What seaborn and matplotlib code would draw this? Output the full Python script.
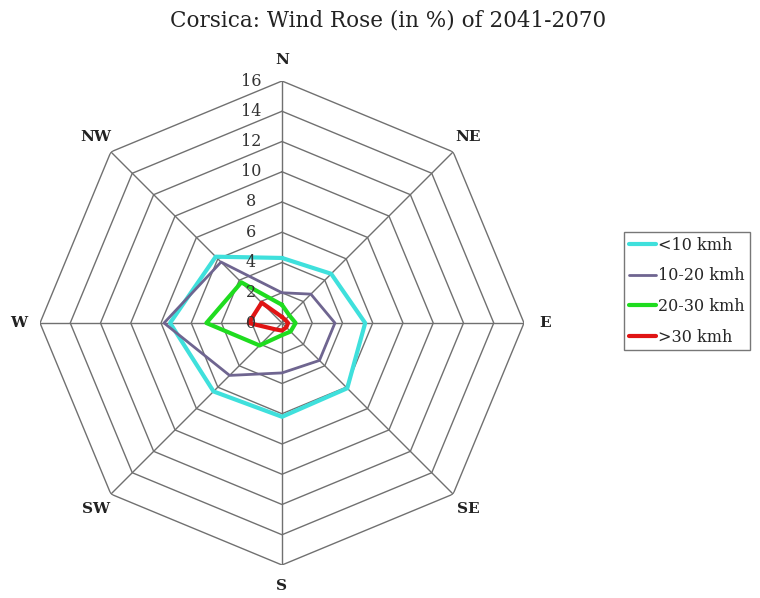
import numpy as np
import pandas as pd
import matplotlib
matplotlib.use("Agg")
import matplotlib.pyplot as plt
import matplotlib.transforms as mtransforms
from matplotlib.lines import Line2D
import seaborn as sns

# Wind directions (clockwise from north) and frequencies in percent
directions = ["N", "NE", "E", "SE", "S", "SW", "W", "NW"]
speed_classes = ["<10 kmh", "10-20 kmh", "20-30 kmh", ">30 kmh"]
below_10 = [4.3, 4.6, 5.5, 6.1, 6.2, 6.4, 7.4, 6.2]
from_10_to_20 = [2.0, 2.7, 3.5, 3.5, 3.3, 4.9, 7.8, 5.7]
from_20_to_30 = [1.2, 0.7, 0.9, 0.8, 0.8, 2.1, 5.0, 3.8]
above_30 = [0.4, 0.3, 0.4, 0.4, 0.5, 0.6, 2.2, 1.9]
radial_ticks = [0, 2, 4, 6, 8, 10, 12, 14, 16]

colors = ["#3fe0dc", "#6f6590", "#1fdc1f", "#e01414"]
widths = [3.0, 2.0, 3.0, 3.0]

sns.set_theme(style="white")
plt.rcParams["font.family"] = ["DejaVu Serif"]

angles = np.linspace(0, 2 * np.pi, len(directions), endpoint=False)
closed = np.append(angles, 2 * np.pi)

rows = []
for name, vals in zip(speed_classes, [below_10, from_10_to_20, from_20_to_30, above_30]):
    vv = list(vals) + [vals[0]]
    for th, v in zip(closed, vv):
        rows.append({"theta": th, "value": v, "speed": name})
df = pd.DataFrame(rows)

fig = plt.figure(figsize=(7.6, 5.98), dpi=100)
ax = fig.add_axes([40 / 760, 33 / 598, 484 / 760, 484 / 598], projection="polar")
ax.set_theta_zero_location("N")
ax.set_theta_direction(-1)
ax.set_ylim(0, 16)
ax.grid(False)
ax.spines["polar"].set_visible(False)
ax.set_xticks([])
ax.set_yticks([])
ax.set_facecolor("white")

grid_color = "#707070"
# octagonal rings
for r in radial_ticks[1:]:
    ax.plot(closed, [r] * len(closed), color=grid_color, lw=1.0, zorder=1)
# spokes
for a in angles:
    ax.plot([a, a], [0, 16], color=grid_color, lw=1.0, zorder=1)

sns.lineplot(data=df, x="theta", y="value", hue="speed", hue_order=speed_classes,
             palette=colors, sort=False, estimator=None, legend=False, ax=ax, zorder=3)
for line, lw in zip(ax.lines[-4:], widths):
    line.set_linewidth(lw)
ax.set_xlabel("")
ax.set_ylabel("")

# radial tick labels along the north spoke
off = mtransforms.offset_copy(ax.transData, fig=fig, x=-31, y=0, units="dots")
for r in radial_ticks:
    ax.text(0, r, str(r), transform=off, ha="center", va="center",
            fontsize=11.5, color="#333333", zorder=4)

# compass labels
for a, d in zip(angles, directions):
    ax.text(a, 17.4, d, ha="center", va="center", fontsize=11,
            fontweight="bold", color="#222222", clip_on=False)

fig.text(0.511, 0.966, "Corsica: Wind Rose (in %) of 2041-2070",
         ha="center", va="center", fontsize=15.5, color="#222222")

handles = [Line2D([], [], color=c, lw=lw) for c, lw in zip(colors, widths)]
leg = fig.legend(handles, speed_classes, loc="upper left",
                 bbox_to_anchor=(624 / 760, 1 - 232 / 598), frameon=True,
                 fancybox=False, fontsize=11.5, handlelength=1.7,
                 handletextpad=0.15, borderpad=0.3, labelspacing=0.85,
                 borderaxespad=0)
leg.get_frame().set_edgecolor("#555555")
leg.get_frame().set_linewidth(1.0)

fig.savefig("out.png", dpi=100, facecolor="white")
